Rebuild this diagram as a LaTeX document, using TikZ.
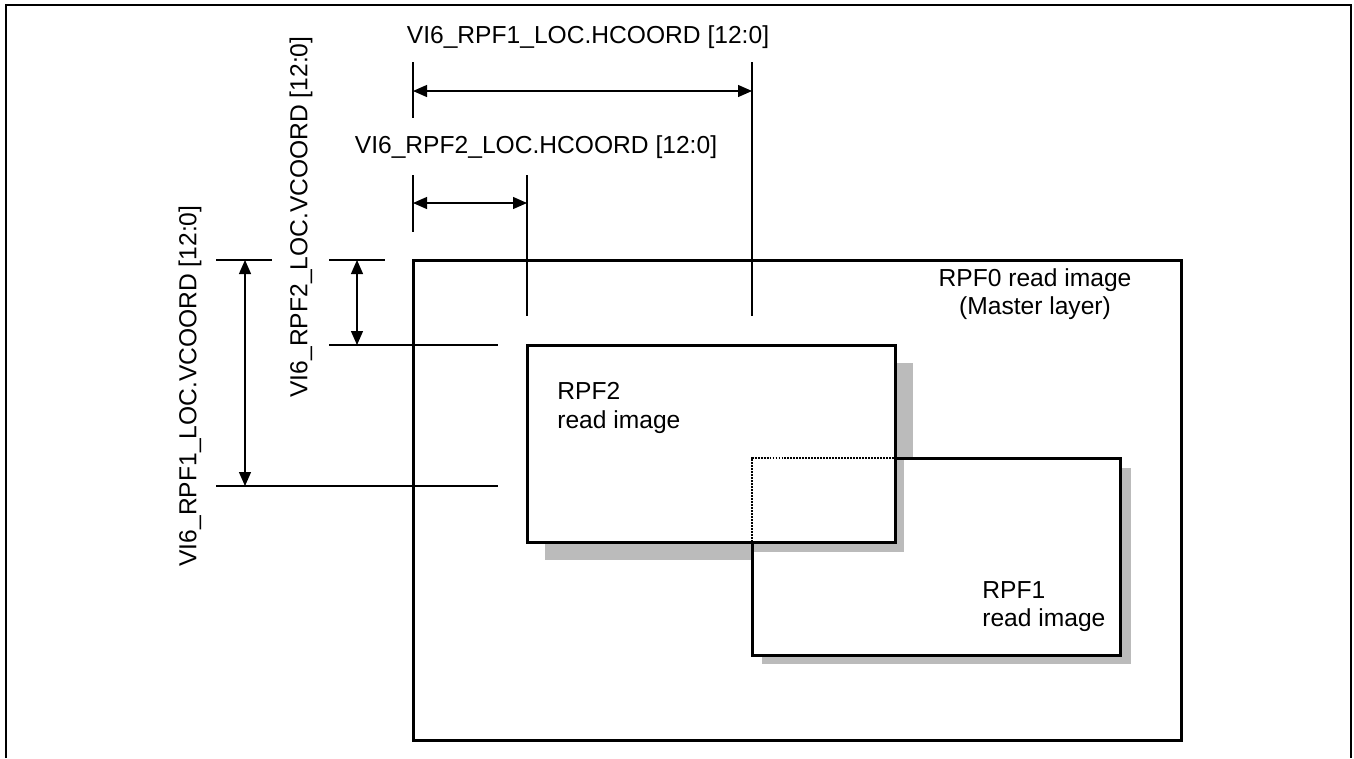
\documentclass[tikz,border=0pt]{standalone}
\usepackage{fontspec}
\setmainfont{Liberation Sans}
\usetikzlibrary{arrows.meta, positioning}
\definecolor{shadowgray}{RGB}{187,187,187}
\tikzset{
  frame/.style  = {line width=1pt},
  layer/.style  = {draw, line width=1.7pt, fill=white},
  shade/.style  = {fill=shadowgray},
  ext/.style    = {line width=0.7pt},
  dim/.style    = {{Triangle[length=0.28cm,width=0.24cm]}-{Triangle[length=0.28cm,width=0.24cm]},
                   line width=0.7pt},
  lbl/.style    = {font=\fontsize{14}{16}\selectfont, inner sep=0pt},
  hidden/.style = {line width=1.1pt, dash pattern=on 1.1pt off 0.6pt}
}

\begin{document}
\begin{tikzpicture}[x=0.02cm, y=-0.02cm]
  \useasboundingbox (0,0) rectangle (1354,758);
  \draw[frame] (6,758) -- (6,5) -- (1351,5) -- (1351,758);

  \draw[layer] (413,260) rectangle (1181,740);
  \fill[shade] (545,363) rectangle (913,560);
  \fill[shade] (762,468) rectangle (1131,664);
  \draw[layer] (752,458) rectangle (1120,655);
  \fill[shade] (754,460) rectangle (904,552);
  \draw[layer] (527,345) rectangle (895,542);
  \draw[hidden] (752,542) -- (752,458) -- (895,458);

  \node[lbl, align=center] (rpf0) at (1035,294) {RPF0 read image\\(Master layer)};
  \node[lbl, align=left, anchor=west] (rpf2) at (557,408) {RPF2\\read image};
  \node[lbl, align=left, anchor=west] (rpf1) at (982,607) {RPF1\\read image};

  \coordinate (h1a) at (413,91);
  \coordinate (h1b) at (752,91);
  \coordinate (h2a) at (413,203);
  \coordinate (h2b) at (527,203);
  \draw[ext] (413,62) -- (413,118);
  \draw[ext] (413,175) -- (413,232);
  \draw[ext] (527,175) -- (527,316);
  \draw[ext] (752,62) -- (752,316);
  \draw[dim] (h1a) -- (h1b);
  \draw[dim] (h2a) -- (h2b);
  \node[lbl] (h1lbl) at (588,37) {VI6\_RPF1\_LOC.HCOORD [12:0]};
  \node[lbl] (h2lbl) at (536,147) {VI6\_RPF2\_LOC.HCOORD [12:0]};

  \coordinate (v1a) at (245,260);
  \coordinate (v1b) at (245,486);
  \coordinate (v2a) at (357,260);
  \coordinate (v2b) at (357,345);
  \draw[ext] (216,260) -- (272,260);
  \draw[ext] (329,260) -- (385,260);
  \draw[ext] (329,345) -- (498,345);
  \draw[ext] (216,486) -- (498,486);
  \draw[dim] (v1a) -- (v1b);
  \draw[dim] (v2a) -- (v2b);
  \node[lbl, rotate=90] (v1lbl) at (190,386) {VI6\_RPF1\_LOC.VCOORD [12:0]};
  \node[lbl, rotate=90] (v2lbl) at (301,217) {VI6\_RPF2\_LOC.VCOORD [12:0]};
\end{tikzpicture}
\end{document}
